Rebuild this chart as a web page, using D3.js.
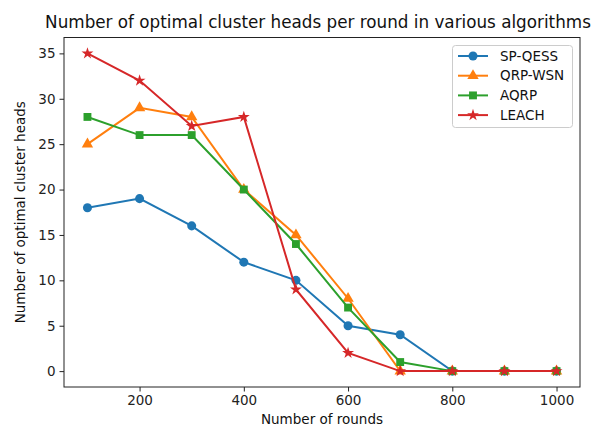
<!DOCTYPE html>
<html><head><meta charset="utf-8">
<script src="https://cdn.jsdelivr.net/npm/d3@7"></script>
<style>body{margin:0;background:#fff}svg{font-family:"DejaVu Sans",sans-serif}</style>
</head><body><svg id="c" width="603" height="426"></svg>
<script>
const rounds = [100,200,300,400,500,600,700,800,900,1000];
const spQess = [18,19,16,12,10,5,4,0,0,0];
const qrpWsn = [25,29,28,20,15,8,0,0,0,0];
const aqrp   = [28,26,26,20,14,7,1,0,0,0];
const leach  = [35,32,27,28,9,2,0,0,0,0];
const xTicks = [200,400,600,800,1000];
const yTicks = [0,5,10,15,20,25,30,35];
const series = [
  {name:"SP-QESS", values:spQess, color:"#1f77b4", marker:"circle"},
  {name:"QRP-WSN", values:qrpWsn, color:"#ff7f0e", marker:"triangle"},
  {name:"AQRP", values:aqrp, color:"#2ca02c", marker:"square"},
  {name:"LEACH", values:leach, color:"#d62728", marker:"star"}
];
const svg = d3.select("#c");
const L=64, R=580, T=37.5, B=387;
const x = d3.scaleLinear().domain([55,1045]).range([L,R]);
const y = d3.scaleLinear().domain([-1.75,36.75]).range([B,T]);

const sym = {circle:d3.symbol().type(d3.symbolCircle).size(64),
  triangle:d3.symbol().type(d3.symbolTriangle).size(56),
  square:d3.symbol().type(d3.symbolSquare).size(62),
  star:d3.symbol().type(d3.symbolStar).size(44)};

const g = svg.append("g");
series.forEach(s=>{
  const line = d3.line().x((d,i)=>x(rounds[i])).y(d=>y(d));
  g.append("path").attr("d",line(s.values)).attr("fill","none").attr("stroke",s.color).attr("stroke-width",2);
  g.selectAll(null).data(s.values).enter().append("path")
    .attr("d",sym[s.marker]).attr("transform",(d,i)=>`translate(${x(rounds[i])},${y(d)})`)
    .attr("fill",s.color);
});

const fmt = d3.format("d");
const xa = svg.append("g").attr("transform",`translate(0,${B})`).call(d3.axisBottom(x).tickValues(xTicks).tickFormat(fmt).tickSize(4.5).tickPadding(4));
const ya = svg.append("g").attr("transform",`translate(${L},0)`).call(d3.axisLeft(y).tickValues(yTicks).tickFormat(fmt).tickSize(4.5).tickPadding(4));
[xa,ya].forEach(a=>{a.select(".domain").remove();a.selectAll("text").attr("font-size",13.5).attr("fill","#222").attr("font-family","DejaVu Sans");a.selectAll("line").attr("stroke","#222");});
svg.append("rect").attr("x",L).attr("y",T).attr("width",R-L).attr("height",B-T).attr("fill","none").attr("stroke","#222").attr("stroke-width",1);

svg.append("text").attr("x",(L+R)/2-4).attr("y",28).attr("text-anchor","middle").attr("font-size",16.8).attr("fill","#111").text("Number of optimal cluster heads per round in various algorithms");
svg.append("text").attr("x",(L+R)/2).attr("y",424).attr("text-anchor","middle").attr("font-size",13.5).attr("fill","#111").text("Number of rounds");
svg.append("text").attr("transform",`translate(25,${(T+B)/2}) rotate(-90)`).attr("text-anchor","middle").attr("font-size",13.5).attr("fill","#111").text("Number of optimal cluster heads");

const lg = svg.append("g");
lg.append("rect").attr("x",452.5).attr("y",45.5).attr("width",120).attr("height",82).attr("rx",3).attr("fill","#fff").attr("fill-opacity",0.8).attr("stroke","#ccc");
series.forEach((s,i)=>{
  const yy = 56+i*19.7;
  lg.append("line").attr("x1",458).attr("x2",488).attr("y1",yy).attr("y2",yy).attr("stroke",s.color).attr("stroke-width",2);
  lg.append("path").attr("d",sym[s.marker]).attr("transform",`translate(473,${yy})`).attr("fill",s.color);
  lg.append("text").attr("x",500).attr("y",yy+4.5).attr("font-size",13.5).attr("fill","#111").text(s.name);
});
</script></body></html>
